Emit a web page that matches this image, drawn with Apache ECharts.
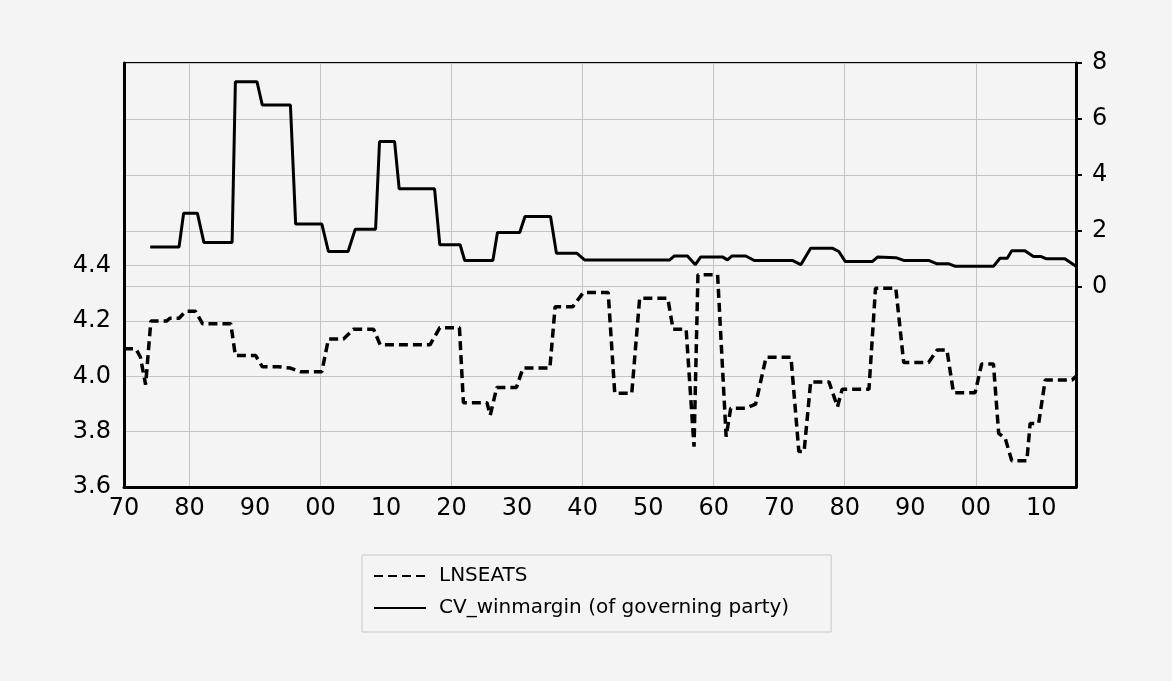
<!DOCTYPE html>
<html>
<head>
<meta charset="utf-8">
<script src="https://cdn.jsdelivr.net/npm/echarts@6/dist/echarts.min.js"></script>
<style>
    html, body {
        margin: 0;
        padding: 0;
        background: #f4f4f4;
    }

    #chart {
        width: 1172px;
        height: 681px;
    }
</style>
</head>
<body>
<div id="chart"></div>
<script>
// x axis: years, labels every 10 years, grid lines every 20
const labelYears = [1870, 1880, 1890, 1900, 1910, 1920, 1930, 1940, 1950, 1960, 1970, 1980, 1990, 2000, 2010]
const gridYears = [1880, 1900, 1920, 1940, 1960, 1980, 2000]
const leftTicks = [3.6, 3.8, 4.0, 4.2, 4.4]
const rightTicks = [0, 2, 4, 6, 8]

// LNSEATS (left axis), break points
const seatsYears = [
    1870.0, 1871.8, 1872.5, 1873.3, 1874.1, 1876.5, 1877.0, 1878.4, 1879.4, 1880.9,
    1882.0, 1886.3, 1887.0, 1890.1, 1891.1, 1893.5, 1895.4, 1896.9, 1900.2, 1901.2,
    1903.5, 1905.0, 1908.1, 1909.1, 1916.7, 1918.2, 1921.2, 1921.8, 1925.4, 1925.9,
    1926.9, 1929.9, 1930.9, 1935.0, 1935.8, 1938.5, 1940.1, 1943.9, 1944.9, 1947.5,
    1948.7, 1953.0, 1953.8, 1955.8, 1957.0, 1957.6, 1960.6, 1961.9, 1962.6, 1964.9,
    1966.4, 1968.0, 1971.8, 1973.0, 1973.8, 1974.8, 1977.6, 1978.9, 1979.6, 1983.7,
    1984.7, 1987.8, 1989.0, 1992.8, 1994.1, 1995.6, 1996.6, 1999.9, 2000.9, 2002.7,
    2003.5, 2004.5, 2005.5, 2007.8, 2008.3, 2009.6, 2010.6, 2014.7, 2015.3
]
const seatsValues = [
    4.10, 4.10, 4.07, 3.97, 4.20, 4.20, 4.21, 4.21, 4.235, 4.235,
    4.19, 4.19, 4.075, 4.075, 4.035, 4.035, 4.03, 4.017, 4.017, 4.135,
    4.135, 4.17, 4.17, 4.114, 4.114, 4.176, 4.176, 3.905, 3.905, 3.86,
    3.96, 3.96, 4.03, 4.03, 4.252, 4.252, 4.303, 4.303, 3.939, 3.939,
    4.282, 4.282, 4.17, 4.17, 3.746, 4.367, 4.367, 3.782, 3.885, 3.885,
    3.90, 4.069, 4.069, 3.728, 3.728, 3.98, 3.98, 3.89, 3.953, 3.953,
    4.319, 4.319, 4.05, 4.05, 4.095, 4.095, 3.941, 3.941, 4.045, 4.045,
    3.794, 3.776, 3.695, 3.695, 3.83, 3.83, 3.987, 3.987, 4.00
]

// CV_winmargin (right axis)
const marginYears = [
    1874.0, 1878.4, 1879.1, 1881.2, 1882.2, 1886.5, 1887.0, 1890.3, 1891.1, 1895.4,
    1896.2, 1900.2, 1901.2, 1904.2, 1905.3, 1908.4, 1909.0, 1911.3, 1912.0, 1917.4,
    1918.2, 1921.3, 1922.0, 1926.3, 1927.0, 1930.4, 1931.2, 1935.1, 1936.0, 1939.1,
    1940.3, 1953.3, 1954.0, 1956.0, 1957.2, 1958.0, 1961.4, 1962.1, 1962.8, 1964.9,
    1966.2, 1972.0, 1973.3, 1974.8, 1978.1, 1979.1, 1980.1, 1984.2, 1985.0, 1987.8,
    1989.0, 1992.8, 1994.1, 1995.9, 1996.9, 2002.7, 2003.7, 2004.8, 2005.5, 2007.5,
    2008.8, 2010.0, 2010.8, 2013.6, 2015.3
]
const marginValues = [
    1.42, 1.42, 2.63, 2.63, 1.58, 1.58, 7.33, 7.33, 6.5, 6.5,
    2.24, 2.24, 1.26, 1.26, 2.06, 2.06, 5.19, 5.19, 3.5, 3.5,
    1.5, 1.5, 0.94, 0.94, 1.94, 1.94, 2.51, 2.51, 1.2, 1.2,
    0.96, 0.96, 1.1, 1.1, 0.79, 1.06, 1.06, 0.96, 1.1, 1.1,
    0.94, 0.94, 0.79, 1.38, 1.38, 1.26, 0.9, 0.9, 1.06, 1.04,
    0.94, 0.94, 0.82, 0.82, 0.73, 0.73, 1.02, 1.02, 1.29, 1.29,
    1.08, 1.08, 1.0, 1.0, 0.73
]

const FONT = 'DejaVu Sans'

const toPairs = (xs, ys) => xs.map((x, i) => [x, ys[i]])

const gridLine = {
    show: true,
    lineStyle: {color: '#c4c4c4', width: 1}
}

let chart = echarts.init(document.getElementById('chart'))
let options = {
    backgroundColor: '#f4f4f4',
    animation: false,
    grid: {
        left: 124,
        top: 63,
        width: 952,
        height: 424,
        show: true,
        borderColor: '#000',
        borderWidth: 2,
        backgroundColor: 'transparent'
    },
    legend: {
        orient: 'vertical',
        left: 362,
        top: 555,
        padding: [11, 42, 14, 11],
        itemWidth: 52,
        itemHeight: 20,
        itemGap: 12,
        borderColor: '#c8c8c8',
        borderWidth: 1,
        // line only, no marker in the legend
        itemStyle: {opacity: 0},
        textStyle: {
            fontFamily: FONT,
            fontSize: 20,
            color: '#000',
            padding: [0, 0, 0, 8]
        },
        data: ['LNSEATS', 'CV_winmargin (of governing party)']
    },
    xAxis: {
        type: 'value',
        min: 1870,
        max: 2015.3,
        axisLine: {show: true, onZero: false, lineStyle: {color: '#000', width: 3}},
        axisTick: {show: false, customValues: gridYears},
        axisLabel: {
            customValues: labelYears,
            formatter: (v) => String(v % 100).padStart(2, '0'),
            fontFamily: FONT,
            fontSize: 24,
            color: '#000',
            margin: 10
        },
        splitLine: gridLine
    },
    yAxis: [
        {
            type: 'value',
            position: 'left',
            min: 3.6,
            max: 5.133,
            axisLine: {show: true, lineStyle: {color: '#000', width: 3}},
            axisTick: {show: false, customValues: leftTicks},
            axisLabel: {
                customValues: leftTicks,
                formatter: (v) => v.toFixed(1),
                fontFamily: FONT,
                fontSize: 24,
                color: '#000',
                margin: 13
            },
            splitLine: gridLine
        },
        {
            type: 'value',
            position: 'right',
            min: -7.16,
            max: 8,
            axisLine: {show: true, lineStyle: {color: '#000', width: 3}},
            axisTick: {show: true, length: 6, customValues: rightTicks, lineStyle: {color: '#000', width: 2}},
            axisLabel: {
                customValues: rightTicks,
                fontFamily: FONT,
                fontSize: 24,
                color: '#000',
                margin: 16
            },
            splitLine: gridLine
        }
    ],
    series: [
        {
            name: 'LNSEATS',
            type: 'line',
            yAxisIndex: 0,
            symbol: 'none',
            lineStyle: {color: '#000', width: 3.5, type: [9, 5]},
            itemStyle: {color: '#000'},
            data: toPairs(seatsYears, seatsValues)
        },
        {
            name: 'CV_winmargin (of governing party)',
            type: 'line',
            yAxisIndex: 1,
            symbol: 'none',
            lineStyle: {color: '#000', width: 3},
            itemStyle: {color: '#000'},
            data: toPairs(marginYears, marginValues)
        }
    ]
}
chart.setOption(options)
</script>
</body>
</html>
